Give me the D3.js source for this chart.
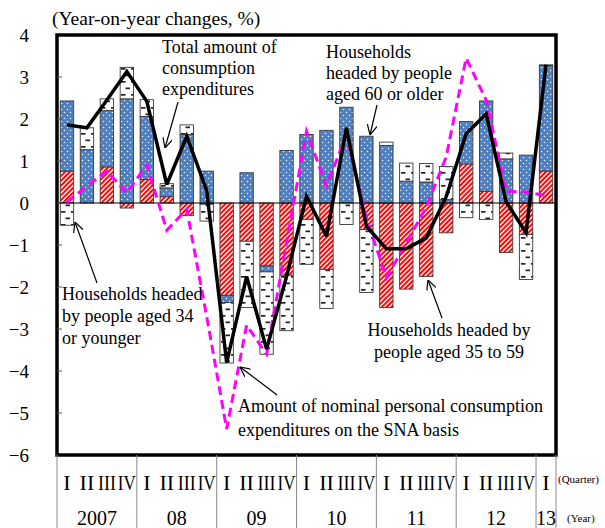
<!DOCTYPE html>
<html>
<head>
<meta charset="utf-8">
<script src="https://cdn.jsdelivr.net/npm/d3@7"></script>
<style>
  body { margin: 0; background: #fff; }
  svg { display: block; }
  text { font-family: "Liberation Serif", "Times New Roman", serif; fill: #000; }
</style>
</head>
<body>
<svg id="chart" width="605" height="528"></svg>
<script>
// Quarterly year-on-year changes (%), 2007 Q1 – 2013 Q1
const quarters = [
  "2007Q1","2007Q2","2007Q3","2007Q4",
  "2008Q1","2008Q2","2008Q3","2008Q4",
  "2009Q1","2009Q2","2009Q3","2009Q4",
  "2010Q1","2010Q2","2010Q3","2010Q4",
  "2011Q1","2011Q2","2011Q3","2011Q4",
  "2012Q1","2012Q2","2012Q3","2012Q4",
  "2013Q1"
];
const quarterNames = ["I", "II", "III", "IV"];
const yearLabels = ["2007", "08", "09", "10", "11", "12", "13"];

// Contributions by age of household head
const aged35to59 = [0.76, 0, 0.86, -0.12, 0.56, 0.15, -0.3, -0.03, -2.2, -0.91, -1.5, -1.72, -0.39, -1.58, 0, -0.63, -2.49, -2.05, -1.75, -0.71, 0.93, 0.28, -1.18, -0.75, 0.76];
const aged60plus = [1.67, 1.27, 1.34, 2.48, 1.5, 0.21, 1.63, 0.76, -0.17, 0.72, -0.14, 1.25, 1.63, 1.73, 2.28, 1.59, 1.37, 0.52, 0.5, 0.08, 1.01, 2.15, 1.05, 1.14, 2.51];
const aged34under = [-0.53, 0.52, 0.28, 0.75, 0.4, 0.1, 0.23, -0.4, -1.44, -1.58, -1.96, -1.32, -1.07, -0.93, -0.51, -1.5, 0.08, 0.43, 0.44, 0.79, -0.35, -0.39, 0.14, -1.07, 0.02];

// Lines
const totalExpenditure = [1.86, 1.79, 2.45, 3.13, 2.42, 0.44, 1.59, 0.3, -3.8, -1.75, -3.48, -1.75, 0.16, -0.79, 1.79, -0.55, -1.09, -1.09, -0.83, 0.15, 1.65, 2.12, 0.03, -0.71, 3.29];
const snaConsumption = [0.02, 0.4, 0.76, 0.24, 0.91, -0.65, -0.15, -2.7, -5.38, -2.91, -3.6, -0.95, 1.71, 0.4, 1.62, -0.35, -1.78, -0.95, -0.1, 1.1, 3.45, 2.45, 0.28, 0.26, 0.18];

const yTicks = [4, 3, 2, 1, 0, -1, -2, -3, -4, -5, -6];

const svg = d3.select("#chart");
const plot = { left: 57, right: 556, top: 35, bottom: 455 };

const x = d3.scaleBand()
  .domain(quarters)
  .range([plot.left, plot.right])
  .paddingInner(0.33)
  .paddingOuter(0.165);
const y = d3.scaleLinear().domain([-6, 4]).range([plot.bottom, plot.top]);

// ---- fill patterns ----
const defs = svg.append("defs");

const dots = defs.append("pattern")
  .attr("id", "pat-60").attr("patternUnits", "userSpaceOnUse")
  .attr("width", 6).attr("height", 6);
dots.append("rect").attr("width", 6).attr("height", 6).attr("fill", "#4f80bf");
dots.append("circle").attr("cx", 1.5).attr("cy", 1.5).attr("r", 0.75).attr("fill", "#fff").attr("opacity", 0.9);
dots.append("circle").attr("cx", 4.5).attr("cy", 4.5).attr("r", 0.75).attr("fill", "#fff").attr("opacity", 0.9);

const hatch = defs.append("pattern")
  .attr("id", "pat-35").attr("patternUnits", "userSpaceOnUse")
  .attr("width", 3.4).attr("height", 3.4)
  .attr("patternTransform", "rotate(45)");
hatch.append("rect").attr("width", 3.4).attr("height", 3.4).attr("fill", "#fff");
hatch.append("rect").attr("width", 2).attr("height", 3.4).attr("fill", "#ff0000");

const dashes = defs.append("pattern")
  .attr("id", "pat-34").attr("patternUnits", "userSpaceOnUse")
  .attr("width", 10).attr("height", 13);
dashes.append("rect").attr("width", 10).attr("height", 13).attr("fill", "#fff");
dashes.append("rect").attr("x", 1).attr("y", 3).attr("width", 4.5).attr("height", 1.7).attr("fill", "#222");
dashes.append("rect").attr("x", 5.5).attr("y", 9.5).attr("width", 4.5).attr("height", 1.7).attr("fill", "#222");

const arrow = defs.append("marker")
  .attr("id", "arrow").attr("viewBox", "0 0 10 10")
  .attr("refX", 10).attr("refY", 5)
  .attr("markerWidth", 10).attr("markerHeight", 10)
  .attr("markerUnits", "userSpaceOnUse")
  .attr("orient", "auto");
arrow.append("path").attr("d", "M0,0 L10,5 L0,10")
  .attr("fill", "none").attr("stroke", "#000").attr("stroke-width", 1.2);

// ---- stacked bars ----
const rows = quarters.map((q, i) => ({
  q,
  mid: aged35to59[i],
  senior: aged60plus[i],
  young: aged34under[i]
}));
const keys = ["mid", "senior", "young"];
const fills = { mid: "url(#pat-35)", senior: "url(#pat-60)", young: "url(#pat-34)" };
const series = d3.stack().keys(keys).offset(d3.stackOffsetDiverging)(rows);

svg.append("g").selectAll("g")
  .data(series).join("g")
  .attr("fill", d => fills[d.key])
  .selectAll("rect")
  .data(d => d.filter(s => Math.abs(s[1] - s[0]) > 1e-9))
  .join("rect")
  .attr("x", d => x(d.data.q))
  .attr("width", x.bandwidth())
  .attr("y", d => y(Math.max(d[0], d[1])))
  .attr("height", d => Math.abs(y(d[0]) - y(d[1])))
  .attr("stroke", "#3a3a3a")
  .attr("stroke-width", 0.9);

// zero line
svg.append("line")
  .attr("x1", plot.left).attr("x2", plot.right)
  .attr("y1", y(0)).attr("y2", y(0))
  .attr("stroke", "#000").attr("stroke-width", 1.2);

// ---- lines ----
const cx = q => x(q) + x.bandwidth() / 2;
const line = d3.line().x(d => cx(d.q)).y(d => y(d.v));

svg.append("path")
  .datum(quarters.map((q, i) => ({ q, v: snaConsumption[i] })))
  .attr("d", line)
  .attr("fill", "none")
  .attr("stroke", "#ff00ff")
  .attr("stroke-width", 3)
  .attr("stroke-dasharray", "9,5");

svg.append("path")
  .datum(quarters.map((q, i) => ({ q, v: totalExpenditure[i] })))
  .attr("d", line)
  .attr("fill", "none")
  .attr("stroke", "#000")
  .attr("stroke-width", 3.5)
  .attr("stroke-linejoin", "miter")
  .attr("stroke-miterlimit", 3);

// ---- frame, ticks, axis labels ----
svg.append("rect")
  .attr("x", plot.left).attr("y", plot.top)
  .attr("width", plot.right - plot.left).attr("height", plot.bottom - plot.top)
  .attr("fill", "none").attr("stroke", "#000").attr("stroke-width", 3.5);

svg.append("g").selectAll("line")
  .data(yTicks.filter(t => t > -6 && t < 4)).join("line")
  .attr("x1", plot.left).attr("x2", plot.left + 5)
  .attr("y1", d => y(d)).attr("y2", d => y(d))
  .attr("stroke", "#555").attr("stroke-width", 1);

svg.append("g").selectAll("text")
  .data(yTicks).join("text")
  .attr("x", 29).attr("y", d => y(d))
  .attr("dy", "0.35em")
  .attr("text-anchor", "end")
  .attr("font-size", 19)
  .text(d => d < 0 ? "\u2212" + Math.abs(d) : d);

svg.append("text")
  .attr("x", 52).attr("y", 25)
  .attr("font-size", 19.5)
  .text("(Year-on-year changes, %)");

// quarter and year labels under the plot
const step = x.step();
const x0 = plot.left;
const bounds = d3.range(0, quarters.length + 1, 4).concat([quarters.length]);
svg.append("g").selectAll("line")
  .data(Array.from(new Set(bounds))).join("line")
  .attr("x1", d => x0 + d * step).attr("x2", d => x0 + d * step)
  .attr("y1", plot.bottom).attr("y2", 528)
  .attr("stroke", "#8a8a8a").attr("stroke-width", 1);

const qLabels = svg.append("g").selectAll("text")
  .data(quarters).join("text")
  .attr("x", d => cx(d))
  .attr("y", 490)
  .attr("text-anchor", "middle")
  .attr("font-size", 22)
  .text((d, i) => quarterNames[i % 4]);
// squeeze the wider numerals into their quarter slot
qLabels.filter((d, i) => i % 4 >= 2)
  .attr("textLength", 18)
  .attr("lengthAdjust", "spacingAndGlyphs");

svg.append("g").selectAll("text")
  .data(yearLabels).join("text")
  .attr("x", (d, i) => {
    const first = i * 4;
    const last = Math.min(first + 3, quarters.length - 1);
    return (cx(quarters[first]) + cx(quarters[last])) / 2;
  })
  .attr("y", 525)
  .attr("text-anchor", "middle")
  .attr("font-size", 20)
  .text(d => d);

svg.append("text").attr("x", 558).attr("y", 483).attr("font-size", 11).text("(Quarter)");
svg.append("text").attr("x", 567).attr("y", 522).attr("font-size", 11).text("(Year)");

// ---- annotations ----
function note(lines, xPos, y0, lh, anchor) {
  const t = svg.append("text")
    .attr("font-size", 18)
    .attr("text-anchor", anchor || "start");
  lines.forEach((s, i) => t.append("tspan").attr("x", xPos).attr("y", y0 + i * lh).text(s));
}
function pointer(x1, y1, x2, y2) {
  svg.append("line")
    .attr("x1", x1).attr("y1", y1).attr("x2", x2).attr("y2", y2)
    .attr("stroke", "#000").attr("stroke-width", 1.2)
    .attr("marker-end", "url(#arrow)");
}

note(["Total amount of", "consumption", "expenditures"], 162, 53, 21);
pointer(178, 102, 165, 148);

note(["Households", "headed by people", "aged 60 or older"], 326, 58, 21);
pointer(377, 105, 370, 135);

note(["Households headed", "by people aged 34", "or younger"], 62, 300, 22);
pointer(97, 283, 75, 222);

note(["Households headed by", "people aged 35 to 59"], 449, 336, 22, "middle");
pointer(442, 318, 428, 280);

note(["Amount of nominal personal consumption", "expenditures on the SNA basis"], 238, 412, 24);
pointer(277, 395, 240, 367);
</script>
</body>
</html>
